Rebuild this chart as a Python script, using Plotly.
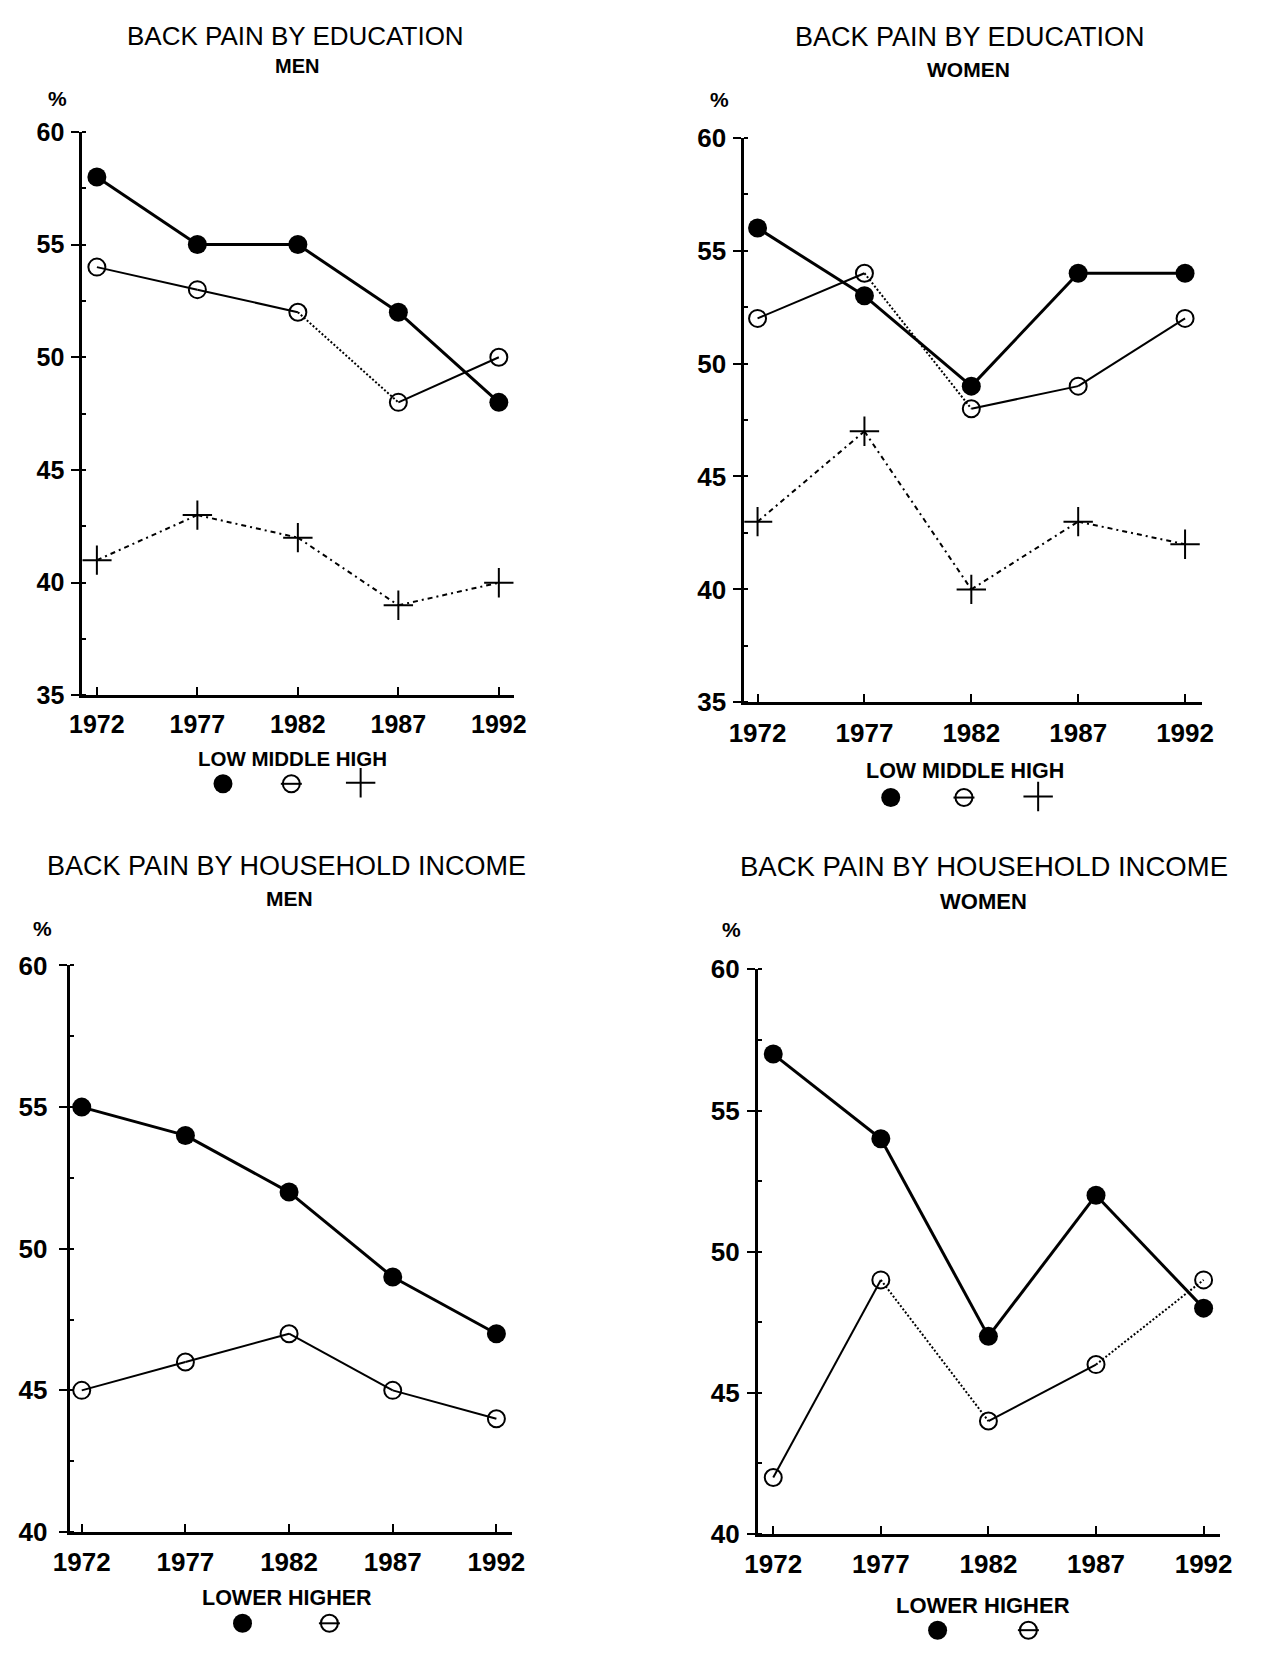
import plotly.graph_objects as go

# ---------------- data ----------------
years = [1972, 1977, 1982, 1987, 1992]

edu_men_low = [58, 55, 55, 52, 48]
edu_men_middle = [54, 53, 52, 48, 50]
edu_men_high = [41, 43, 42, 39, 40]

edu_women_low = [56, 53, 49, 54, 54]
edu_women_middle = [52, 54, 48, 49, 52]
edu_women_high = [43, 47, 40, 43, 42]

inc_men_lower = [55, 54, 52, 49, 47]
inc_men_higher = [45, 46, 47, 45, 44]

inc_women_lower = [57, 54, 47, 52, 48]
inc_women_higher = [42, 49, 44, 46, 49]

edu_yticks = [35, 40, 45, 50, 55, 60]
inc_yticks = [40, 45, 50, 55, 60]

edu_legend = ["LOW", "MIDDLE", "HIGH"]
inc_legend = ["LOWER", "HIGHER"]

# ---------------- layout helpers ----------------
W, H = 1263, 1655
FONT = "Liberation Sans"
BLACK = "#000000"


def px(x):
    return x / W


def py(y):
    return 1 - y / H


panels = {
    1: dict(box=(67, 509, 119, 693), xr=[1971.28, 1992.75], fs=25, so=2),
    2: dict(box=(745, 1214, 125, 700), xr=[1971.38, 1992.80], fs=26, so=2),
    3: dict(box=(54, 507, 968, 1545), xr=[1971.42, 1992.75], fs=26, so=6),
    4: dict(box=(759, 1232, 972, 1547), xr=[1971.29, 1992.75], fs=26, so=2),
}

SOLID_THICK = dict(color=BLACK, width=3)
THIN = dict(color=BLACK, width=2)
DOTTED = dict(color=BLACK, width=2, dash="2px,2px")
DASHDOT = dict(color=BLACK, width=2, dash="5px,4px,2px,4px")

M_FILLED = dict(symbol="circle", size=19, color=BLACK)
M_OPEN = dict(symbol="circle-open", size=17, color=BLACK, line=dict(color=BLACK, width=2))
M_CROSS = dict(symbol="cross-thin", size=21, color=BLACK, line=dict(color=BLACK, width=2))

fig = go.Figure()


def add_series(n, vals, seg_styles, marker):
    xa = "x" if n == 1 else f"x{n}"
    ya = "y" if n == 1 else f"y{n}"
    for i in range(len(years) - 1):
        fig.add_trace(go.Scatter(x=years[i:i + 2], y=vals[i:i + 2], mode="lines",
                                 line=seg_styles[i], xaxis=xa, yaxis=ya,
                                 showlegend=False, hoverinfo="skip"))
    fig.add_trace(go.Scatter(x=years, y=vals, mode="markers", marker=marker,
                             xaxis=xa, yaxis=ya, showlegend=False))


add_series(1, edu_men_high, [DASHDOT] * 4, M_CROSS)
add_series(1, edu_men_middle, [THIN, THIN, DOTTED, THIN], M_OPEN)
add_series(1, edu_men_low, [SOLID_THICK] * 4, M_FILLED)
add_series(2, edu_women_high, [DASHDOT] * 4, M_CROSS)
add_series(2, edu_women_middle, [THIN, DOTTED, THIN, THIN], M_OPEN)
add_series(2, edu_women_low, [SOLID_THICK] * 4, M_FILLED)
add_series(3, inc_men_higher, [THIN] * 4, M_OPEN)
add_series(3, inc_men_lower, [SOLID_THICK] * 4, M_FILLED)
add_series(4, inc_women_higher, [THIN, DOTTED, THIN, DOTTED], M_OPEN)
add_series(4, inc_women_lower, [SOLID_THICK] * 4, M_FILLED)

legend_marks = [
    (211, 783, "filled"), (281, 783, "theta"), (352, 782, "cross"),
    (895, 797, "filled"), (970, 797, "theta"), (1046, 796, "cross"),
    (231, 1638, "filled"), (320, 1638, "theta"),
    (943, 1645, "filled"), (1036, 1645, "theta"),
]
for lx, ly, kind in legend_marks:
    if kind == "filled":
        mk = [M_FILLED]
    elif kind == "theta":
        mk = [M_OPEN, dict(symbol="line-ew", size=15, color=BLACK, line=dict(color=BLACK, width=2))]
    else:
        mk = [dict(symbol="cross-thin", size=21, color=BLACK, line=dict(color=BLACK, width=2))]
    for m in mk:
        fig.add_trace(go.Scatter(x=[lx], y=[ly], mode="markers", marker=m,
                                 xaxis="x5", yaxis="y5", showlegend=False, hoverinfo="skip"))

layout = dict(
    width=W, height=H, autosize=False,
    margin=dict(l=0, r=0, t=0, b=0),
    paper_bgcolor="white", plot_bgcolor="rgba(0,0,0,0)",
    showlegend=False,
    xaxis5=dict(domain=[0, 1], range=[0, W], visible=False, anchor="y5", fixedrange=True),
    yaxis5=dict(domain=[0, 1], range=[H, 0], visible=False, anchor="x5", fixedrange=True),
)

for n, p in panels.items():
    l, r, t, b = p["box"]
    xk = "xaxis" if n == 1 else f"xaxis{n}"
    yk = "yaxis" if n == 1 else f"yaxis{n}"
    xa = "x" if n == 1 else f"x{n}"
    ya = "y" if n == 1 else f"y{n}"
    yt = edu_yticks if n in (1, 2) else inc_yticks
    tickfont = dict(family=FONT, size=p["fs"], color=BLACK, weight="bold")
    layout[xk] = dict(domain=[px(l), px(r)], range=p["xr"], tickvals=years,
                      ticks="inside", ticklen=8, tickwidth=2, tickcolor=BLACK,
                      showline=True, linewidth=3, linecolor=BLACK,
                      showgrid=False, zeroline=False, tickfont=tickfont,
                      ticklabelstandoff=5, anchor=ya, fixedrange=True)
    layout[yk] = dict(domain=[py(b), py(t)], range=[yt[0], yt[-1]], tickvals=yt,
                      ticks="outside", ticklen=8, tickwidth=2, tickcolor=BLACK,
                      minor=dict(dtick=2.5, tick0=0, ticks="inside", ticklen=4,
                                 tickwidth=1.5, tickcolor=BLACK),
                      showline=True, linewidth=3, linecolor=BLACK,
                      showgrid=False, zeroline=False, tickfont=tickfont,
                      ticklabelstandoff=p["so"], anchor=xa, fixedrange=True)

fig.update_layout(**layout)


def ann(text, x, y, size, bold=False):
    fig.add_annotation(text=text, x=px(x), y=py(y), xref="paper", yref="paper",
                       xanchor="center", yanchor="middle", showarrow=False,
                       font=dict(family=FONT, size=size, color=BLACK,
                                 weight="bold" if bold else "normal"))


ann("BACK PAIN BY EDUCATION", 285, 21, 26)
ann("MEN", 287, 52, 20, True)
ann("%", 41, 85, 21, True)
ann("BACK PAIN BY EDUCATION", 976, 22, 27)
ann("WOMEN", 975, 55, 21, True)
ann("%", 720, 86, 21, True)
ann("BACK PAIN BY HOUSEHOLD INCOME", 276, 867, 27)
ann("MEN", 279, 900, 21, True)
ann("%", 26, 930, 21, True)
ann("BACK PAIN BY HOUSEHOLD INCOME", 991, 867, 27.5)
ann("WOMEN", 990, 903, 22, True)
ann("%", 732, 931, 21, True)

ann(" ".join(edu_legend), 282, 757, 20.5, True)
ann(" ".join(edu_legend), 971, 770, 21.5, True)
ann(" ".join(inc_legend), 277, 1612, 21.5, True)
ann(" ".join(inc_legend), 990, 1620, 22, True)

fig.write_html("out.html")
